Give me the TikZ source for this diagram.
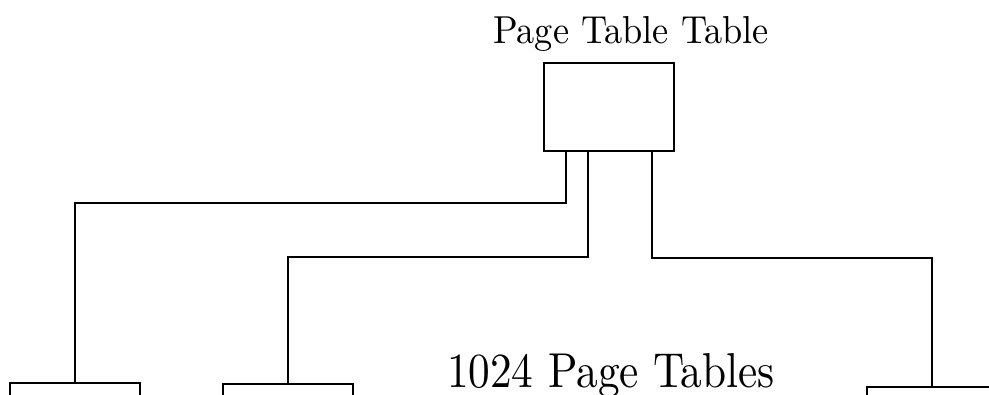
\documentclass[tikz,border=0pt]{standalone}
\begin{document}
\begin{tikzpicture}[x=1pt,y=1pt,
  tablebox/.style={draw, line width=1.8pt, minimum width=130pt, minimum height=88pt, inner sep=0pt},
  link/.style={draw, line width=1.8pt}]
\useasboundingbox (0,0) rectangle (989,-394);
\clip (0,0) rectangle (989,-394);
\node[tablebox] (ptt) at (609,-107) {};
\node[anchor=base, xscale=3.63, yscale=3.9, inner sep=0pt] (lbl) at (631,-43) {Page Table Table};
\node[tablebox, anchor=north] (b1) at (75,-382) {};
\node[tablebox, anchor=north] (b2) at (288,-383) {};
\node[tablebox, anchor=north] (b3) at (932,-386) {};
\node[anchor=base, xscale=4.33, yscale=4.9, inner sep=0pt] (many) at (611,-387) {1024 Page Tables};
\coordinate (j1) at (75,-203);
\coordinate (j2) at (288,-257);
\coordinate (j3) at (932,-258);
\draw[link] ([xshift=23pt]ptt.south west) |- (j1) -- (b1.north);
\draw[link] ([xshift=45pt]ptt.south west) |- (j2) -- (b2.north);
\draw[link] ([xshift=109pt]ptt.south west) |- (j3) -- (b3.north);
\end{tikzpicture}
\end{document}
